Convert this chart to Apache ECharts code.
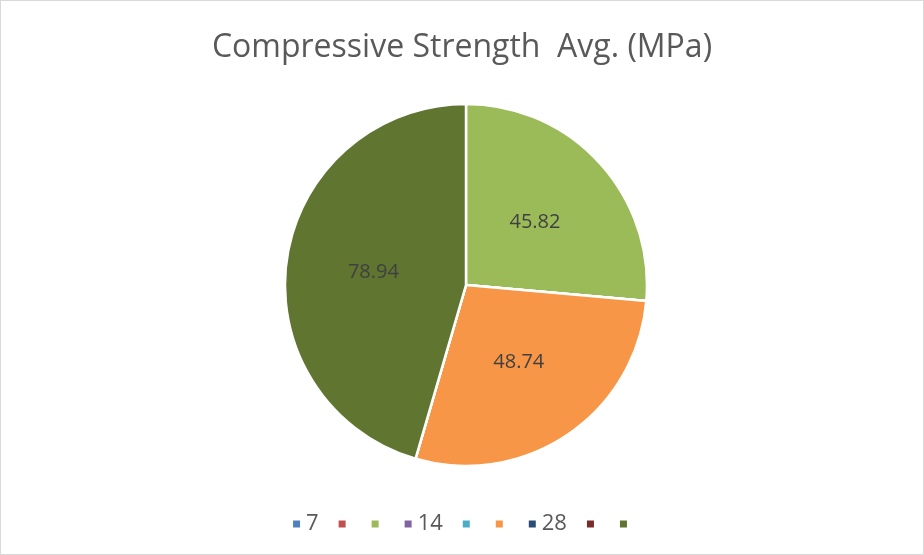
<!DOCTYPE html>
<html>
<head>
<meta charset="utf-8">
<script src="https://cdn.jsdelivr.net/npm/echarts@6/dist/echarts.min.js"></script>
<style>
  html, body { margin: 0; padding: 0; background: #fff; }
  #main { width: 924px; height: 555px; box-sizing: border-box; border: 1px solid #d9d9d9; }
</style>
</head>
<body>
<div id="main"></div>
<script>
// categories as they appear in the legend (Excel rows, most have no label)
var labels = ['7', '', '', '14', '', '', '28', '', ''];
var values = [0, 0, 45.82, 0, 0, 48.74, 0, 0, 78.94];
var colors = ['#4F81BD', '#C0504D', '#9BBB59', '#8064A2', '#4BACC6', '#F79646', '#2C4D75', '#772C2A', '#5F7530'];

// names must be unique, so pad the blank ones with zero width spaces
var names = labels.map(function (l, i) { return l + '\u200b'.repeat(i + 1); });

var dom = document.getElementById('main');
var myChart = echarts.init(dom);
var pieData = values.map(function (v, i) {
    return { value: v, name: names[i], itemStyle: { color: colors[i] } };
});

var option = {
    animation: false,
    title: {
        text: 'Compressive Strength  Avg. (MPa)',
        left: 'center',
        top: 26,
        textStyle: { fontFamily: 'Open Sans', fontSize: 32, fontWeight: 'normal', color: '#595959' }
    },
    legend: {
        data: names,
        left: 'center',
        top: 507,
        icon: 'rect',
        itemWidth: 9,
        itemHeight: 9,
        itemGap: 18,
        textStyle: { fontFamily: 'Open Sans', fontSize: 22, color: '#595959' }
    },
    series: [
        {
            type: 'pie',
            radius: 181,
            center: [465, 284],
            startAngle: 90,
            clockwise: true,
            avoidLabelOverlap: false,
            data: pieData,
            itemStyle: { borderColor: '#fff', borderWidth: 2.5 },
            label: {
                position: 'inside',
                fontFamily: 'Open Sans',
                fontSize: 20,
                color: '#404040',
                formatter: function (p) { return p.value ? p.value.toFixed(2) : ''; }
            },
            labelLine: { show: false },
            emphasis: { disabled: true }
        }
    ]
};
myChart.setOption(option);
</script>
</body>
</html>
